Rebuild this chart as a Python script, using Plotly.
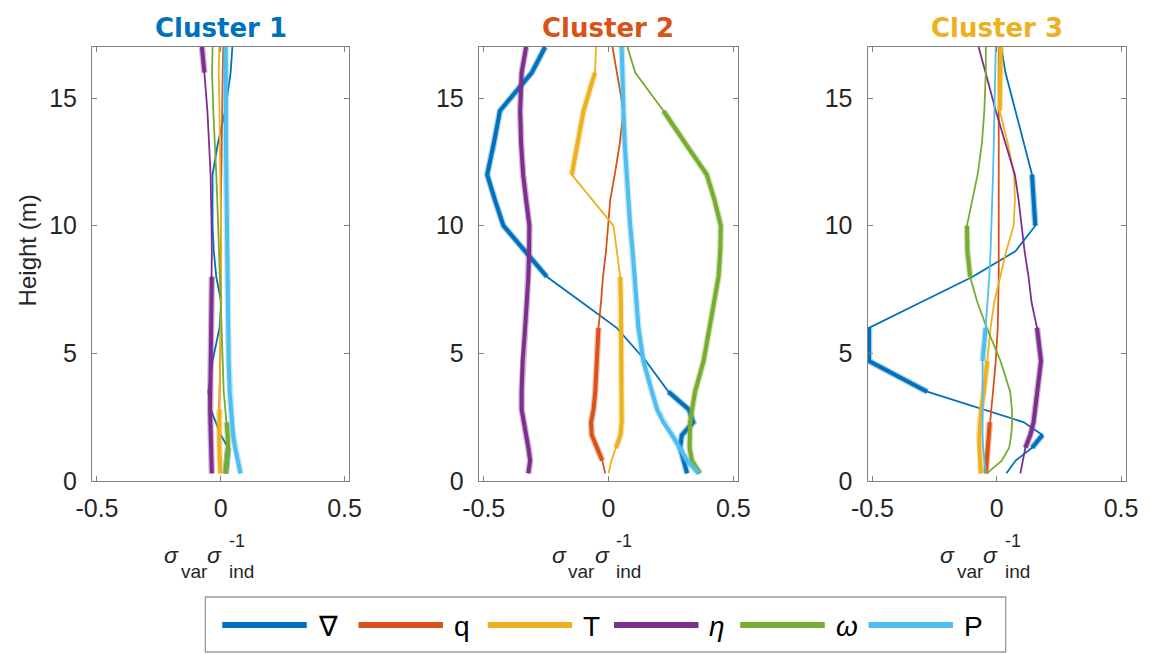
import plotly.graph_objects as go

# ---------------- data ----------------
HEIGHTS = [0.3, 0.8, 1.3, 1.8, 2.3, 2.8, 3.5, 4.7, 6, 7, 8, 9, 10, 11, 12, 13.2, 14.5, 16, 17]

VARIABLES = ["∇", "q", "T", "η", "ω", "P"]
LEGEND_LABELS = ["∇", "q", "T", "<i>η</i>", "<i>ω</i>", "P"]
COLORS = ["#0072BD", "#D95319", "#EDB120", "#7E2F8E", "#77AC30", "#4DBEEE"]
CLUSTERS = ["Cluster 1", "Cluster 2", "Cluster 3"]
TITLE_COLORS = ["#0072BD", "#D95319", "#EDB120"]

X_TICKS = [-0.5, 0, 0.5]
X_TICK_LABELS = ["-0.5", "0", "0.5"]
Y_TICKS = [0, 5, 10, 15]
Y_TICK_LABELS = ["0", "5", "10", "15"]

# Cluster 1 profiles (sigma_var / sigma_ind) on HEIGHTS
C1_GRAD = [0.02, 0.025, 0.03, 0.0, -0.02, -0.04, -0.05, -0.033, -0.005, 0.002, -0.018, -0.028, -0.033, -0.034, -0.033, -0.012, 0.018, 0.04, 0.047]
C1_Q = [0.0, -0.003, -0.005, -0.006, -0.007, -0.006, -0.004, 0.0, 0.002, 0.002, 0.001, 0.0, 0.0, 0.001, 0.002, 0.003, 0.005, 0.008, 0.01]
C1_T = [-0.002, -0.005, -0.006, -0.006, -0.006, -0.005, -0.004, -0.002, 0.0, 0.001, 0.002, 0.002, 0.001, 0.0, -0.001, -0.002, -0.005, -0.008, -0.006]
C1_ETA = [-0.036, -0.038, -0.041, -0.043, -0.044, -0.043, -0.042, -0.04, -0.039, -0.037, -0.036, -0.036, -0.037, -0.039, -0.041, -0.047, -0.054, -0.066, -0.076]
C1_OMEGA = [0.02, 0.026, 0.03, 0.028, 0.024, 0.018, 0.012, 0.008, 0.004, 0.0, -0.004, -0.008, -0.011, -0.014, -0.018, -0.024, -0.03, -0.035, -0.033]
C1_P = [0.08, 0.068, 0.058, 0.05, 0.045, 0.041, 0.036, 0.032, 0.03, 0.028, 0.026, 0.025, 0.024, 0.023, 0.022, 0.021, 0.021, 0.02, 0.02]

# Cluster 2
C2_GRAD = [0.315, 0.30, 0.287, 0.294, 0.34, 0.322, 0.24, 0.15, 0.033, -0.107, -0.247, -0.334, -0.421, -0.455, -0.486, -0.46, -0.435, -0.307, -0.254]
C2_Q = [-0.013, -0.025, -0.045, -0.067, -0.07, -0.06, -0.053, -0.047, -0.04, -0.03, -0.022, -0.01, -0.003, 0.007, 0.025, 0.045, 0.06, 0.033, 0.016]
C2_T = [0.0, 0.012, 0.03, 0.048, 0.053, 0.053, 0.053, 0.053, 0.053, 0.05, 0.047, 0.035, 0.02, -0.064, -0.147, -0.125, -0.1, -0.054, -0.05]
C2_ETA = [-0.321, -0.314, -0.321, -0.33, -0.34, -0.348, -0.348, -0.344, -0.334, -0.327, -0.321, -0.318, -0.317, -0.33, -0.342, -0.35, -0.354, -0.348, -0.33]
C2_OMEGA = [0.367, 0.334, 0.325, 0.325, 0.327, 0.335, 0.347, 0.381, 0.405, 0.425, 0.441, 0.448, 0.45, 0.425, 0.394, 0.31, 0.22, 0.107, 0.076]
C2_P = [0.361, 0.315, 0.285, 0.255, 0.22, 0.195, 0.174, 0.14, 0.12, 0.113, 0.107, 0.097, 0.087, 0.079, 0.071, 0.065, 0.06, 0.055, 0.053]

# Cluster 3
C3_GRAD = [0.039, 0.076, 0.142, 0.184, 0.109, -0.057, -0.28, -0.514, -0.514, -0.305, -0.097, 0.075, 0.155, 0.15, 0.142, 0.11, 0.074, 0.035, 0.018]
C3_Q = [-0.044, -0.04, -0.036, -0.032, -0.028, -0.022, -0.015, -0.004, 0.004, 0.007, 0.008, 0.008, 0.008, 0.008, 0.008, 0.008, 0.008, 0.008, 0.008]
C3_T = [-0.064, -0.068, -0.07, -0.07, -0.068, -0.062, -0.052, -0.038, -0.025, -0.01, 0.015, 0.038, 0.068, 0.073, 0.07, 0.045, 0.012, 0.012, 0.016]
C3_ETA = [0.095, 0.105, 0.115, 0.135, 0.148, 0.155, 0.165, 0.178, 0.162, 0.14, 0.128, 0.112, 0.1, 0.088, 0.073, 0.035, -0.004, -0.045, -0.073]
C3_OMEGA = [-0.04, 0.02, 0.05, 0.058, 0.062, 0.061, 0.054, 0.015, -0.04, -0.078, -0.107, -0.118, -0.12, -0.1, -0.077, -0.06, -0.05, -0.044, -0.044]
C3_P = [-0.044, -0.05, -0.055, -0.057, -0.057, -0.057, -0.057, -0.057, -0.045, -0.036, -0.03, -0.025, -0.021, -0.018, -0.015, -0.012, -0.009, -0.006, -0.004]

# height intervals drawn with a heavy line (per variable, same order as VARIABLES)
C1_THICK = [[(0.3, 1.3)], [], [(0.3, 2.8)], [(0.3, 8), (16, 17)], [(0.3, 2.3)], [(0.3, 17)]]
C2_THICK = [[(0.3, 3.5), (8, 17)], [(0.8, 6)], [(1.3, 8), (12, 16)], [(0.3, 17)], [(0.3, 14.5)], [(0.3, 17)]]
C3_THICK = [[(1.3, 1.8), (3.5, 6), (10, 12)], [(0.3, 2.3)], [(0.3, 4.7), (14.5, 17)], [(1.3, 6)], [(8, 10)], [(4.7, 6)]]

CLUSTER_SERIES = [
    [C1_GRAD, C1_Q, C1_T, C1_ETA, C1_OMEGA, C1_P],
    [C2_GRAD, C2_Q, C2_T, C2_ETA, C2_OMEGA, C2_P],
    [C3_GRAD, C3_Q, C3_T, C3_ETA, C3_OMEGA, C3_P],
]
CLUSTER_THICK = [C1_THICK, C2_THICK, C3_THICK]

# ---------------- layout geometry ----------------
# the page body adds an 8 px offset; the figure is sized so the page matches 1150x654
OFF = 8
W, H = 1142, 646
ML, MR, MT, MB = 84, 18, 39, 173
PW = W - ML - MR
PH = H - MT - MB
DOMAINS = [[0.0, 0.249], [0.374, 0.625], [0.75, 1.0]]

FONT = "Liberation Sans, Arial, sans-serif"
TITLE_FONT = "DejaVu Sans, sans-serif"
TXT = "#262626"
AXC = "#808080"


def pxx(px):
    """page x pixel -> paper coordinate"""
    return (px - OFF - ML) / PW


def pxy(py):
    """page y pixel -> paper coordinate"""
    return (H - MB - (py - OFF)) / PH


fig = go.Figure()

for c in range(3):
    xa = "x" if c == 0 else f"x{c + 1}"
    ya = "y" if c == 0 else f"y{c + 1}"
    for v in range(6):
        vals = CLUSTER_SERIES[c][v]
        col = COLORS[v]
        fig.add_trace(go.Scatter(
            x=vals, y=HEIGHTS, mode="lines", xaxis=xa, yaxis=ya,
            line=dict(color=col, width=1.8), showlegend=False, hoverinfo="skip"))
        ivs = CLUSTER_THICK[c][v]
        if ivs:
            tx = [x if any(lo <= h <= hi for lo, hi in ivs) else None
                  for x, h in zip(vals, HEIGHTS)]
            fig.add_trace(go.Scatter(
                x=tx, y=HEIGHTS, mode="lines", xaxis=xa, yaxis=ya,
                line=dict(color=col, width=6.5), opacity=0.35,
                showlegend=False, hoverinfo="skip", connectgaps=False))
            fig.add_trace(go.Scatter(
                x=tx, y=HEIGHTS, mode="lines", xaxis=xa, yaxis=ya,
                line=dict(color=col, width=4), showlegend=False,
                hoverinfo="skip", connectgaps=False))

axis_common = dict(
    showgrid=False, zeroline=False, showline=True, linecolor=AXC, linewidth=1,
    mirror="ticks", ticks="inside", ticklen=5, tickcolor=AXC,
    tickfont=dict(family=FONT, size=25, color=TXT),
)

layout = dict(
    width=W, height=H,
    margin=dict(l=ML, r=MR, t=MT, b=MB),
    paper_bgcolor="white", plot_bgcolor="white",
    showlegend=False,
)
for c in range(3):
    sx = "" if c == 0 else str(c + 1)
    layout["xaxis" + sx] = dict(
        axis_common, domain=DOMAINS[c], range=[-0.52, 0.52],
        tickvals=X_TICKS, ticktext=X_TICK_LABELS, anchor="y" + sx,
        ticklabelstandoff=5)
    layout["yaxis" + sx] = dict(
        axis_common, domain=[0, 1], range=[0, 17],
        tickvals=Y_TICKS, ticktext=Y_TICK_LABELS, anchor="x" + sx,
        ticklabelstandoff=9)
fig.update_layout(**layout)

annotations = []
for c in range(3):
    xr = "x" if c == 0 else f"x{c + 1}"
    # panel title
    annotations.append(dict(
        text=f"<b>{CLUSTERS[c]}</b>", xref=xr, yref="paper", x=0, y=pxy(28),
        xanchor="center", yanchor="middle", showarrow=False,
        font=dict(family=TITLE_FONT, size=26, color=TITLE_COLORS[c])))
    # x-axis label  sigma_var sigma_ind^-1
    base = dict(xref=xr, yref="paper", x=0, showarrow=False,
                font=dict(family=FONT, size=19, color=TXT))
    sig_font = dict(family=FONT, size=23, color=TXT)
    annotations.append(dict(base, text="<i>σ</i>", y=pxy(555), xshift=-49,
                            xanchor="center", yanchor="middle", font=sig_font))
    annotations.append(dict(base, text="var", y=pxy(571), xshift=-42,
                            xanchor="left", yanchor="middle"))
    annotations.append(dict(base, text="<i>σ</i>", y=pxy(555), xshift=-6,
                            xanchor="center", yanchor="middle", font=sig_font))
    annotations.append(dict(base, text="-1", y=pxy(541), xshift=6,
                            xanchor="left", yanchor="middle",
                            font=dict(family=FONT, size=18, color=TXT)))
    annotations.append(dict(base, text="ind", y=pxy(571), xshift=6,
                            xanchor="left", yanchor="middle"))

# y-axis title
annotations.append(dict(
    text="Height (m)", xref="paper", yref="paper", x=pxx(27), y=pxy(250),
    xanchor="center", yanchor="middle", textangle=-90, showarrow=False,
    font=dict(family=FONT, size=24, color=TXT)))

# legend (drawn manually to get long sample lines)
shapes = [dict(type="rect", xref="paper", yref="paper",
               x0=pxx(206), x1=pxx(1011), y0=pxy(652), y1=pxy(597),
               line=dict(color="#9a9a9a", width=1.3), fillcolor="white", layer="below")]
LEG_STARTS = [223, 360, 490, 617, 744, 873]
for v in range(6):
    s = LEG_STARTS[v]
    shapes.append(dict(type="line", xref="paper", yref="paper",
                       x0=pxx(s), x1=pxx(s + 85), y0=pxy(625), y1=pxy(625),
                       line=dict(color=COLORS[v], width=6)))
    annotations.append(dict(
        text=LEGEND_LABELS[v], xref="paper", yref="paper", x=pxx(s + 94), y=pxy(626),
        xanchor="left", yanchor="middle", showarrow=False,
        font=dict(family=FONT, size=28, color="#000000")))

fig.update_layout(annotations=annotations, shapes=shapes)

fig.write_html("out.html")
